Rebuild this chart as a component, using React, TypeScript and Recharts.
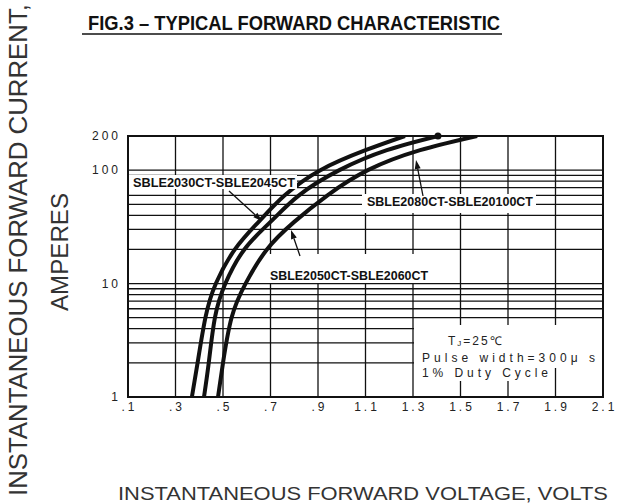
import { LineChart, Line, XAxis, YAxis, CartesianGrid, ReferenceDot } from 'recharts';

// forward current levels (A) at which the curves were read
const currents = [1, 2, 5, 10, 20, 35, 60, 100, 150, 200];
// forward voltage (V) for each family
const voltsLow = [0.369, 0.393, 0.426, 0.47, 0.55, 0.65, 0.76, 0.91, 1.1, 1.266]; // SBLE2030CT-SBLE2045CT
const voltsMid = [0.42, 0.44, 0.466, 0.51, 0.59, 0.7, 0.82, 0.99, 1.19, 1.405]; // SBLE2050CT-SBLE2060CT
const voltsHigh = [0.479, 0.5, 0.536, 0.595, 0.685, 0.8, 0.94, 1.11, 1.33, 1.57]; // SBLE2080CT-SBLE20100CT

const voltTicks = [0.1, 0.3, 0.5, 0.7, 0.9, 1.1, 1.3, 1.5, 1.7, 1.9, 2.1];
const voltTickLabels = ['.1', '.3', '.5', '.7', '.9', '1.1', '1.3', '1.5', '1.7', '1.9', '2.1'];
const ampTicks = [1, 2, 3, 4, 5, 6, 7, 8, 9, 10, 20, 30, 40, 50, 60, 70, 80, 90, 100, 200];
const ampTickLabels = ['1', '10', '100', '200'];

const toPoints = (volts: number[]) => volts.map((v, k) => ({ v, i: currents[k] }));

const FONT = '"Liberation Sans", Arial, sans-serif';
const INK = '#111';

const XTick = ({ x, y, payload }: any) => {
    const idx = voltTicks.indexOf(payload.value);
    return (
        <text x={x + 1.5} y={y + 6} textAnchor="middle" fontSize={12} letterSpacing={3} fill="#222" fontFamily={FONT}>
            {voltTickLabels[idx]}
        </text>
    );
};

const YTick = ({ y, payload }: any) => {
    const label = String(payload.value);
    if (!ampTickLabels.includes(label)) return <g />;
    return (
        <text x={121} y={y + 4} textAnchor="end" fontSize={12} letterSpacing={3} fill="#222" fontFamily={FONT}>
            {label}
        </text>
    );
};

const Arrow = ({ x1, y1, x2, y2 }: { x1: number; y1: number; x2: number; y2: number }) => {
    const a = Math.atan2(y2 - y1, x2 - x1);
    const len = 9, w = 3;
    const bx = x2 - len * Math.cos(a), by = y2 - len * Math.sin(a);
    const px = -Math.sin(a) * w, py = Math.cos(a) * w;
    return (
        <g>
            <line x1={x1} y1={y1} x2={bx} y2={by} stroke={INK} strokeWidth={1.3} />
            <polygon points={`${x2},${y2} ${bx + px},${by + py} ${bx - px},${by - py}`} fill={INK} />
        </g>
    );
};

export default function App() {
    const low = toPoints(voltsLow);
    const mid = toPoints(voltsMid);
    const high = toPoints(voltsHigh);

    return (
        <div style={{ position: 'absolute', left: 0, top: 0, width: 620, height: 503, background: '#fff' }}>
            <LineChart width={620} height={503} margin={{ top: 136, right: 17, left: 0, bottom: 0 }}>
                <CartesianGrid stroke={INK} strokeWidth={1.3} />
                <XAxis type="number" dataKey="v" domain={[0.1, 2.1]} ticks={voltTicks} allowDataOverflow
                    height={106} axisLine={false} tickLine={false} tick={<XTick />} interval={0} />
                <YAxis type="number" dataKey="i" scale="log" domain={[1, 200]} ticks={ampTicks} allowDataOverflow
                    width={128} axisLine={false} tickLine={false} tick={<YTick />} interval={0} />
                <Line data={low} dataKey="i" type="natural" stroke={INK} strokeWidth={4} dot={false} isAnimationActive={false} />
                <Line data={mid} dataKey="i" type="natural" stroke={INK} strokeWidth={4} dot={false} isAnimationActive={false} />
                <Line data={high} dataKey="i" type="natural" stroke={INK} strokeWidth={4} dot={false} isAnimationActive={false} />
                <ReferenceDot x={voltsMid[voltsMid.length - 1]} y={currents[currents.length - 1]} r={3.5} fill={INK} stroke="none" />
            </LineChart>

            <svg width={620} height={503} style={{ position: 'absolute', left: 0, top: 0, pointerEvents: 'none' }} fontFamily={FONT}>
                {/* label masks */}
                <rect x={129} y={175} width={168} height={14} fill="#fff" />
                <rect x={362} y={194} width={174} height={19} fill="#fff" />
                <rect x={268} y={254} width={164} height={29} fill="#fff" />
                <rect x={414} y={325} width={188} height={43} fill="#fff" />
                <rect x={414} y={368} width={137} height={13} fill="#fff" />
                {/* plot frame */}
                <rect x={128} y={136} width={475} height={261} fill="none" stroke={INK} strokeWidth={2} />

                <text x={133} y={187} fontSize={12} fontWeight="bold" fill={INK} textLength={162} lengthAdjust="spacingAndGlyphs">SBLE2030CT-SBLE2045CT</text>
                <text x={367} y={206} fontSize={12} fontWeight="bold" fill={INK} textLength={166} lengthAdjust="spacingAndGlyphs">SBLE2080CT-SBLE20100CT</text>
                <text x={270} y={280} fontSize={12} fontWeight="bold" fill={INK} textLength={158} lengthAdjust="spacingAndGlyphs">SBLE2050CT-SBLE2060CT</text>

                <Arrow x1={229} y1={191} x2={262} y2={221} />
                <Arrow x1={423} y1={196} x2={416} y2={160} />
                <Arrow x1={300} y1={256} x2={291} y2={230} />

                <text x={448} y={345} fontSize={12} fill="#222" letterSpacing={2}>T<tspan fontSize={8} dy={1}>J</tspan><tspan dy={-1}>=25℃</tspan></text>
                <text x={422} y={362} fontSize={12} fill="#222" textLength={173} lengthAdjust="spacing">Pulse width=300μ s</text>
                <text x={422} y={377} fontSize={12} fill="#222" textLength={126} lengthAdjust="spacing">1% Duty Cycle</text>

                {/* titles */}
                <text x={88} y={30} fontSize={21} fontWeight="bold" fill={INK} textLength={412} lengthAdjust="spacingAndGlyphs">FIG.3 – TYPICAL FORWARD CHARACTERISTIC</text>
                <line x1={82} y1={34} x2={502} y2={34} stroke={INK} strokeWidth={1.5} />
                <text transform="translate(27,250) rotate(-90)" textAnchor="middle" fontSize={25} fill="#333" textLength={492} lengthAdjust="spacingAndGlyphs">INSTANTANEOUS FORWARD CURRENT,</text>
                <text transform="translate(68,252) rotate(-90)" textAnchor="middle" fontSize={24} fill="#333" textLength={118} lengthAdjust="spacingAndGlyphs">AMPERES</text>
                <text x={118} y={500} fontSize={19} fill="#333" textLength={490} lengthAdjust="spacingAndGlyphs">INSTANTANEOUS FORWARD VOLTAGE,  VOLTS</text>
            </svg>
        </div>
    );
}
